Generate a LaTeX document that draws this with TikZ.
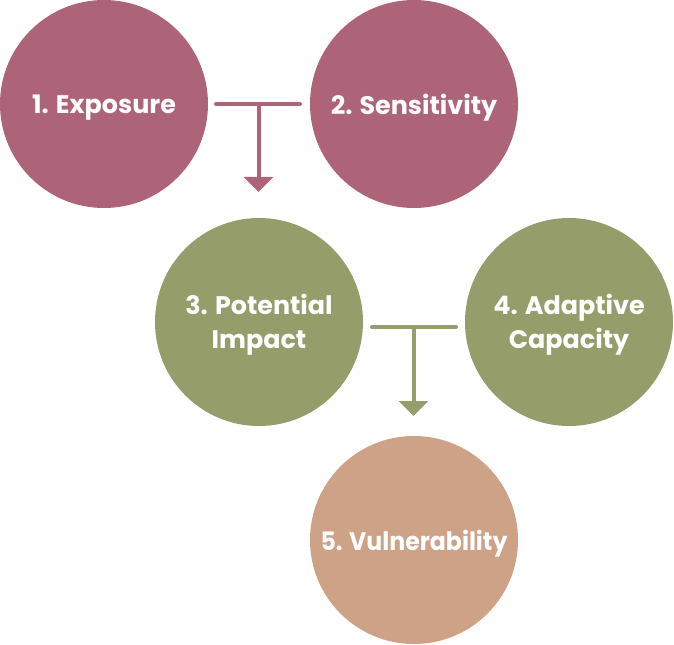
\documentclass[tikz,border=0pt]{standalone}
\usepackage{fontspec}
\setmainfont{Poppins}
\usetikzlibrary{arrows.meta}
\definecolor{cpink}{HTML}{AD6479}
\definecolor{cgreen}{HTML}{959D6A}
\definecolor{ctan}{HTML}{CDA287}
\tikzset{
  circ/.style={circle, minimum size=208bp, inner sep=0pt},
  lbl/.style={inner sep=0pt, text=white, align=center,
     font=\fontsize{25.5}{34}\selectfont\bfseries},
  conn/.style={line width=4bp, line cap=round},
  arr/.style={line width=4bp, -{Triangle[width=29bp,length=15bp]}}
}
\begin{document}
\begin{tikzpicture}[x=1bp,y=-1bp]
\useasboundingbox (0,0) rectangle (674,645);
\node[circ, fill=cpink] (c1) at (104,104) {};
\node[circ, fill=cpink] (c2) at (414,104) {};
\node[circ, fill=cgreen] (c3) at (259,322) {};
\node[circ, fill=cgreen] (c4) at (569,322) {};
\node[circ, fill=ctan] (c5) at (414,540) {};
\node[lbl] (t1) at ([yshift=-4bp]c1.center) {1. Exposure};
\node[lbl] (t2) at ([yshift=-4bp]c2.center) {2. Sensitivity};
\node[lbl] (t3) at ([yshift=-3bp]c3.center) {3. Potential\\Impact};
\node[lbl] (t4) at ([yshift=-3bp]c4.center) {4. Adaptive\\Capacity};
\node[lbl] (t5) at ([yshift=-4bp]c5.center) {\scalebox{0.93}[1]{5. Vulnerability}};
% connector 1
\coordinate (a1) at (216,104);
\coordinate (a2) at (300,104);
\coordinate (a3) at (258.5,104);
\coordinate (a4) at (258.5,192);
\draw[conn, cpink] (a1) -- (a2);
\draw[arr, cpink] (a3) -- (a4);
% connector 2
\coordinate (b1) at (372,327);
\coordinate (b2) at (456,327);
\coordinate (b3) at (413.5,327);
\coordinate (b4) at (413.5,416);
\draw[conn, cgreen] (b1) -- (b2);
\draw[arr, cgreen] (b3) -- (b4);
\end{tikzpicture}
\end{document}
